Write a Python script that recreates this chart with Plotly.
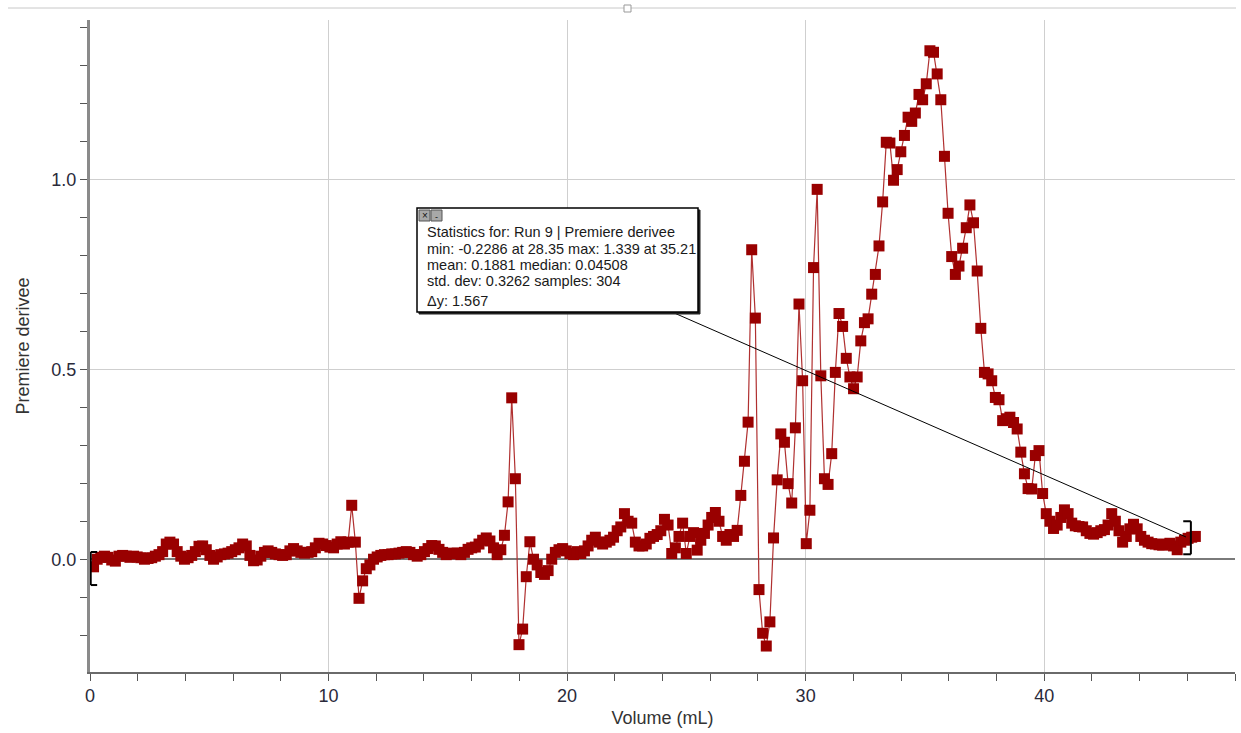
import numpy as np
import plotly.graph_objects as go

# ---------------- data ----------------
VOLUME_START = 0.1486   # mL, first sample
VOLUME_STEP = 0.15244   # mL between samples (drop counter)

deriv_part1 = [  # ~0 - 11.2 mL
    -0.02, 0.0, 0.005, 0.008, 0.005, -0.002, -0.005, 0.008, 0.01, 0.008,
    0.005, 0.008, 0.006, 0.004, 0.0, 0.002, 0.004, 0.008, 0.012, 0.02,
    0.04, 0.045, 0.04, 0.02, 0.008, 0.0, 0.004, 0.01, 0.02, 0.034,
    0.035, 0.025, 0.01, 0.0, 0.006, 0.012, 0.014, 0.016, 0.02, 0.025,
    0.03, 0.04, 0.035, 0.01, -0.004, -0.002, 0.008, 0.018, 0.022, 0.018,
    0.014, 0.012, 0.01, 0.012, 0.022, 0.028, 0.022, 0.018, 0.016, 0.018,
    0.02, 0.03, 0.042, 0.04, 0.036, 0.032, 0.03, 0.04, 0.046, 0.04,
    0.045, 0.142, 0.045, -0.103, -0.057,
]
deriv_part2 = [  # ~11.6 - 26.6 mL
    -0.025, -0.015, 0.0, 0.006, 0.01,
    0.012, 0.012, 0.014, 0.014, 0.016, 0.018, 0.02, 0.018, 0.012, 0.008,
    0.012, 0.02, 0.028, 0.036, 0.035, 0.026, 0.018, 0.012, 0.014, 0.016,
    0.016, 0.012, 0.018, 0.026, 0.03, 0.032, 0.04, 0.05, 0.056, 0.048,
    0.03, 0.012, 0.025, 0.063, 0.151, 0.425, 0.212, -0.225, -0.184, -0.046,
    0.046, 0.0, -0.015, -0.035, -0.04, -0.03, 0.0, 0.018, 0.025, 0.028,
    0.022, 0.015, 0.012, 0.02, 0.015, 0.022, 0.035, 0.05, 0.058, 0.045,
    0.04, 0.045, 0.05, 0.058, 0.075, 0.085, 0.12, 0.1, 0.095, 0.045,
    0.035, 0.035, 0.04, 0.055, 0.06, 0.065, 0.075, 0.105, 0.09, 0.015,
    0.03, 0.06, 0.095, 0.015, 0.06, 0.07, 0.024, 0.05, 0.068, 0.09,
    0.11, 0.123, 0.1, 0.06, 0.05, 0.065, 0.06,
]
deriv_part3 = [  # ~27.1 - 38.1 mL
    0.076, 0.168, 0.258,
    0.361, 0.815, 0.635, -0.08, -0.195, -0.2286, -0.165, 0.056, 0.209, 0.33,
    0.308, 0.199, 0.148, 0.346, 0.672, 0.47, 0.041, 0.129, 0.768, 0.974,
    0.483, 0.212, 0.197, 0.278, 0.492, 0.647, 0.613, 0.529, 0.48, 0.449,
    0.48, 0.575, 0.623, 0.633, 0.698, 0.75, 0.825, 0.941, 1.098, 1.096,
    0.998, 1.026, 1.073, 1.116, 1.164, 1.153, 1.175, 1.224, 1.21, 1.252,
    1.339, 1.335, 1.278, 1.21, 1.061, 0.911, 0.797, 0.75, 0.772, 0.819,
    0.873, 0.933, 0.886, 0.759, 0.608, 0.492, 0.488, 0.47, 0.426, 0.42,
]
deriv_part4 = [  # ~38.3 - 46.3 mL
    0.365, 0.37, 0.374, 0.36, 0.343, 0.282, 0.225, 0.186, 0.185, 0.273,
    0.286, 0.173, 0.12, 0.1, 0.081, 0.09, 0.11, 0.13, 0.12, 0.095,
    0.088, 0.086, 0.085, 0.075, 0.068, 0.066, 0.07, 0.075, 0.078, 0.09,
    0.12, 0.1, 0.075, 0.045, 0.06, 0.08, 0.092, 0.08, 0.06, 0.05,
    0.045, 0.041, 0.04, 0.038, 0.037, 0.04, 0.042, 0.035, 0.025, 0.045,
    0.05, 0.055, 0.058, 0.06,
]

premiere_derivee = deriv_part1 + deriv_part2 + deriv_part3 + deriv_part4
volume = np.round(VOLUME_START + VOLUME_STEP * np.arange(len(premiere_derivee)), 3)

x_tick_vals = [0, 10, 20, 30, 40]
x_tick_text = ["0", "10", "20", "30", "40"]
y_tick_vals = [0.0, 0.5, 1.0]
y_tick_text = ["0.0", "0.5", "1.0"]

stats_lines = [
    "Statistics for: Run 9 | Premiere derivee",
    "min: -0.2286 at 28.35 max: 1.339 at 35.21",
    "mean: 0.1881 median: 0.04508",
    "std. dev: 0.3262 samples: 304",
]
delta_line = "Δy: 1.567"

# ---------------- figure ----------------
W, H = 1241, 733
L, R, T, B = 90, 6, 20, 61
PW, PH = W - L - R, H - T - B


def px(xpix):
    return (xpix - L) / PW


def py(ypix):
    return (H - B - ypix) / PH


FONT = "Arial, Liberation Sans, sans-serif"
DARK_RED = "#990000"

fig = go.Figure()
fig.add_trace(go.Scatter(
    x=volume, y=premiere_derivee, mode="lines+markers",
    line=dict(color="#b03030", width=1.2),
    marker=dict(symbol="square", size=11, color=DARK_RED,
                line=dict(width=0)),
    showlegend=False, hoverinfo="x+y",
))

shapes = []
# selection brackets
shapes += [
    dict(type="line", xref="x", yref="y", x0=0.03, x1=0.03, y0=-0.068, y1=0.019,
         line=dict(color="black", width=2)),
    dict(type="line", xref="x", yref="y", x0=0.03, x1=0.3, y0=0.019, y1=0.019,
         line=dict(color="black", width=2)),
    dict(type="line", xref="x", yref="y", x0=0.03, x1=0.3, y0=-0.068, y1=-0.068,
         line=dict(color="black", width=2)),
    dict(type="line", xref="x", yref="y", x0=46.15, x1=46.15, y0=0.013, y1=0.10,
         line=dict(color="black", width=2)),
    dict(type="line", xref="x", yref="y", x0=45.83, x1=46.15, y0=0.10, y1=0.10,
         line=dict(color="black", width=2)),
    dict(type="line", xref="x", yref="y", x0=45.83, x1=46.15, y0=0.013, y1=0.013,
         line=dict(color="black", width=2)),
]
# connector from stats box to bracket
shapes.append(dict(type="line", xref="paper", yref="paper",
                   x0=px(672), y0=py(312), x1=px(1186), y1=py(537),
                   line=dict(color="black", width=1)))
# stats box (with thin shadow)
shapes.append(dict(type="rect", xref="paper", yref="paper",
                   x0=px(419), x1=px(700), y0=py(314), y1=py(210),
                   line=dict(color="#222222", width=1), fillcolor="#222222"))
shapes.append(dict(type="rect", xref="paper", yref="paper",
                   x0=px(417), x1=px(698), y0=py(312), y1=py(208),
                   line=dict(color="black", width=1.5), fillcolor="white"))
# title-bar buttons
shapes.append(dict(type="rect", xref="paper", yref="paper",
                   x0=px(419), x1=px(430), y0=py(221), y1=py(210),
                   line=dict(color="#555555", width=1), fillcolor="#a8a8a8"))
shapes.append(dict(type="rect", xref="paper", yref="paper",
                   x0=px(431), x1=px(442), y0=py(221), y1=py(210),
                   line=dict(color="#555555", width=1), fillcolor="#a8a8a8"))
# window frame line at top
shapes.append(dict(type="line", xref="paper", yref="paper",
                   x0=px(8), x1=px(1236), y0=py(8), y1=py(8),
                   line=dict(color="#c8c8c8", width=1)))
shapes.append(dict(type="rect", xref="paper", yref="paper",
                   x0=px(624), x1=px(631), y0=py(12), y1=py(5),
                   line=dict(color="#999999", width=1), fillcolor="white"))

annotations = []
line_y = [232, 249, 265, 281]
for txt, yy in zip(stats_lines, line_y):
    annotations.append(dict(text=txt, xref="paper", yref="paper", x=px(425), y=py(yy),
                            xanchor="left", yanchor="middle", showarrow=False,
                            font=dict(family=FONT, size=14.5, color="#1a1a1a")))
annotations.append(dict(text=delta_line, xref="paper", yref="paper", x=px(425), y=py(301),
                        xanchor="left", yanchor="middle", showarrow=False,
                        font=dict(family=FONT, size=14.5, color="#1a1a1a")))
annotations.append(dict(text="×", xref="paper", yref="paper", x=px(424.5), y=py(215.5),
                        xanchor="center", yanchor="middle", showarrow=False,
                        font=dict(family=FONT, size=10, color="#111111")))
annotations.append(dict(text="-", xref="paper", yref="paper", x=px(436.5), y=py(217),
                        xanchor="center", yanchor="middle", showarrow=False,
                        font=dict(family=FONT, size=9, color="#111111")))

fig.update_layout(
    width=W, height=H, autosize=False,
    margin=dict(l=L, r=R, t=T, b=B, pad=0),
    paper_bgcolor="white", plot_bgcolor="white",
    font=dict(family=FONT, color="#333333"),
    shapes=shapes, annotations=annotations,
    xaxis=dict(
        range=[0, 48.0], showline=True, linecolor="#6a6a6a", linewidth=1.5,
        mirror=False, zeroline=False,
        showgrid=True, gridcolor="#cfcfcf", gridwidth=1,
        tickmode="array", tickvals=x_tick_vals, ticktext=x_tick_text,
        ticks="outside", ticklen=7, tickwidth=1, tickcolor="#555555",
        minor=dict(dtick=2, tick0=0, ticks="outside", ticklen=7, tickcolor="#555555",
                   showgrid=False),
        tickfont=dict(family=FONT, size=18, color="#2a2a3a"),
        title=dict(text="Volume (mL)", standoff=6,
                   font=dict(family=FONT, size=18, color="#333333")),
    ),
    yaxis=dict(
        range=[-0.297, 1.42], showline=True, linecolor="#8a8a8a", linewidth=3,
        zeroline=True, zerolinecolor="#7a7a7a", zerolinewidth=2,
        showgrid=True, gridcolor="#cfcfcf", gridwidth=1,
        tickmode="array", tickvals=y_tick_vals, ticktext=y_tick_text,
        ticks="outside", ticklen=7, tickwidth=1, tickcolor="#555555",
        minor=dict(dtick=0.1, tick0=0, ticks="outside", ticklen=7, tickcolor="#555555",
                   showgrid=False),
        tickfont=dict(family=FONT, size=18, color="#2a2a3a"),
        title=dict(text="Premiere derivee", standoff=18,
                   font=dict(family=FONT, size=18, color="#333333")),
    ),
)

fig.write_html("out.html")
